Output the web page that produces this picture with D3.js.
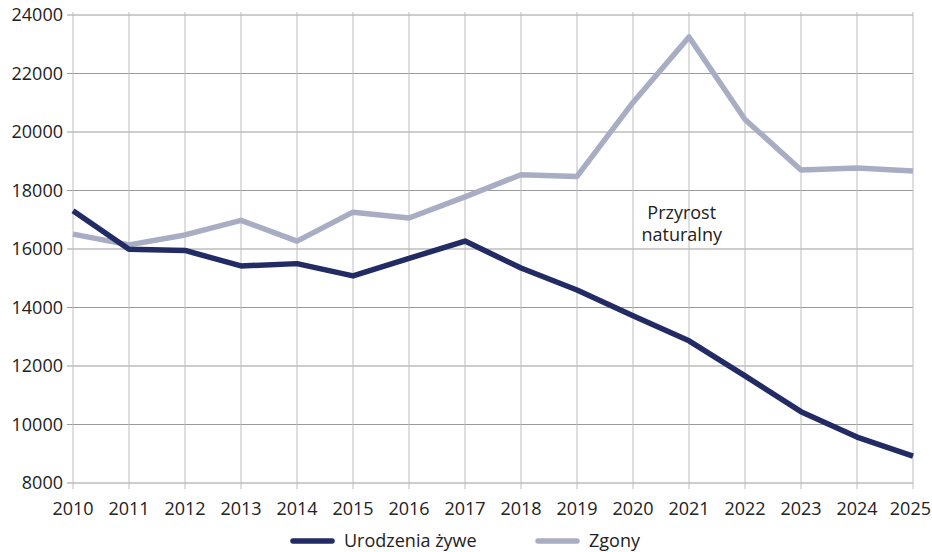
<!DOCTYPE html>
<html>
<head>
<meta charset="utf-8">
<script src="https://cdn.jsdelivr.net/npm/d3@7"></script>
<style>
  body { margin: 0; background: #fff; }
  svg text { font-family: "Open Sans", "Noto Sans", sans-serif; fill: #222; }
</style>
</head>
<body>
<svg id="chart" width="932" height="552"></svg>
<script>
const years = d3.range(2010, 2026);
const births = [17310, 15990, 15950, 15420, 15500, 15080, 15680, 16270, 15350, 14600, 13720, 12860, 11660, 10440, 9570, 8920];
const deaths = [16510, 16140, 16480, 16980, 16270, 17260, 17060, 17780, 18540, 18480, 21010, 23250, 20430, 18700, 18770, 18670];
const yTicks = [8000, 10000, 12000, 14000, 16000, 18000, 20000, 22000, 24000];
const seriesNames = ['Urodzenia żywe', 'Zgony'];
const seriesColors = ['#222b63', '#a9adc3'];

const svg = d3.select('#chart');
const margin = { top: 15, right: 19, bottom: 69, left: 73 };
const width = 932 - margin.left - margin.right;
const height = 552 - margin.top - margin.bottom;

const x = d3.scaleLinear().domain([2010, 2025]).range([0, width]);
const y = d3.scaleLinear().domain([8000, 24000]).range([height, 0]);

const g = svg.append('g').attr('transform', `translate(${margin.left},${margin.top})`);

// grid
g.append('g')
  .selectAll('line')
  .data(yTicks)
  .join('line')
  .attr('x1', -6).attr('x2', width)
  .attr('y1', d => y(d)).attr('y2', d => y(d))
  .attr('stroke', '#9a9a9a').attr('stroke-width', 1);

g.append('g')
  .selectAll('line')
  .data(years)
  .join('line')
  .attr('x1', d => x(d)).attr('x2', d => x(d))
  .attr('y1', -3).attr('y2', height + 6)
  .attr('stroke', '#bdbdbd').attr('stroke-width', 1);

// axis labels
g.append('g')
  .selectAll('text')
  .data(yTicks)
  .join('text')
  .attr('x', -10).attr('y', d => y(d))
  .attr('dy', '0.35em')
  .attr('text-anchor', 'end')
  .attr('font-size', 18)
  .text(d => d);

// last year label sits against the right edge so it isn't clipped
g.append('g')
  .selectAll('text')
  .data(years)
  .join('text')
  .attr('x', d => d === 2025 ? width + margin.right - 1 : x(d))
  .attr('y', height + 32)
  .attr('text-anchor', d => d === 2025 ? 'end' : 'middle')
  .attr('font-size', 18)
  .text(d => d);

// lines
const line = d3.line().x((d, i) => x(years[i])).y(d => y(d));
[deaths, births].forEach((s, k) => {
  g.append('path')
    .datum(s)
    .attr('fill', 'none')
    .attr('stroke', k === 0 ? seriesColors[1] : seriesColors[0])
    .attr('stroke-width', 5.5)
    .attr('stroke-linejoin', 'round')
    .attr('d', line);
});

// annotation
const annX = x(2020.87);
const ann = g.append('text')
  .attr('x', annX).attr('y', y(17030))
  .attr('text-anchor', 'middle')
  .attr('font-size', 18);
ann.append('tspan').attr('x', annX).text('Przyrost');
ann.append('tspan').attr('x', annX).attr('dy', 22).text('naturalny');

// legend
const legend = svg.append('g').attr('transform', 'translate(0,541)');
const legendX = [293, 538];
seriesNames.forEach((name, i) => {
  legend.append('line')
    .attr('x1', legendX[i]).attr('x2', legendX[i] + 39)
    .attr('stroke', seriesColors[i]).attr('stroke-width', 5.5)
    .attr('stroke-linecap', 'round');
  legend.append('text')
    .attr('x', legendX[i] + 51).attr('dy', '0.35em')
    .attr('font-size', 18)
    .text(name);
});
</script>
</body>
</html>
